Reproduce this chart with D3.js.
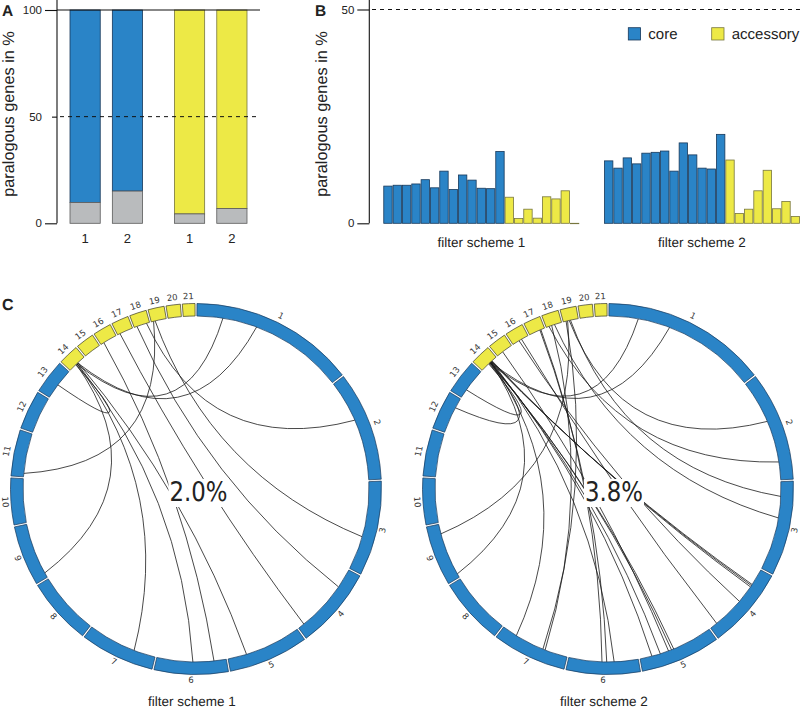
<!DOCTYPE html>
<html><head><meta charset="utf-8">
<script src="https://cdn.jsdelivr.net/npm/d3@7"></script>
<style>body{margin:0;background:#fff} svg{display:block} text{text-rendering:geometricPrecision}</style>
</head><body>
<svg id="c" width="800" height="707"></svg>
<script>
// ---------------- data ----------------
const groupsA = ["core", "accessory"];
const schemes = ["1", "2"];
const paralogCoreA = [9.8, 15.1];      // % paralogous, core, scheme 1 / 2
const paralogAccA = [4.4, 6.9];        // % paralogous, accessory, scheme 1 / 2
const chromosomes = d3.range(1, 22).map(String);
const coreCount = 13;
const scheme1Values = [8.7, 8.9, 8.9, 9.2, 10.2, 8.3, 12.2, 7.9, 11.3, 10.1, 8.2, 8.1, 16.8, 6.1, 1.1, 3.3, 1.2, 6.2, 5.7, 7.6, 0];
const scheme2Values = [14.6, 12.9, 15.3, 13.9, 16.4, 16.6, 16.9, 12.2, 18.8, 16.0, 12.9, 12.7, 20.8, 14.8, 2.3, 3.3, 7.6, 12.4, 3.4, 5.1, 1.6];
const yTicksA = [0, 50, 100];
const yTicksB = [0, 50];
const chromLengths = [5.91, 3.92, 3.40, 2.93, 2.87, 2.65, 2.67, 2.40, 2.16, 1.67, 1.66, 1.40, 1.22, 0.73, 0.66, 0.66, 0.62, 0.61, 0.58, 0.51, 0.45]; // Mb
// links: [chrA, Mb, chrB, Mb]
const links1 = [
  [14, 0.35, 1, 0.99], [14, 0.40, 1, 2.31], [14, 0.30, 13, 0.57], [14, 0.33, 9, 0.19],
  [14, 0.36, 7, 0.83], [14, 0.38, 6, 1.27], [14, 0.42, 5, 2.15], [16, 0.13, 6, 0.47],
  [17, 0.10, 4, 2.68], [18, 0.11, 4, 0.75], [18, 0.49, 2, 1.59], [19, 0.09, 11, 0.13],
  [19, 0.15, 3, 2.11]
];
const links2 = [
  [14, 0.40, 1, 1.12], [14, 0.45, 1, 2.35], [14, 0.35, 13, 0.34], [14, 0.38, 12, 1.01],
  [14, 0.44, 9, 0.15], [14, 0.46, 7, 2.09], [14, 0.40, 5, 1.54], [14, 0.42, 5, 1.63],
  [14, 0.44, 5, 2.08], [14, 0.46, 5, 2.41], [14, 0.48, 4, 0.64], [14, 0.50, 4, 0.69],
  [14, 0.52, 4, 0.75], [14, 0.50, 6, 0.92], [16, 0.27, 4, 1.44], [16, 0.38, 4, 2.64],
  [17, 0.43, 6, 1.20], [17, 0.47, 6, 1.38], [18, 0.22, 7, 0.87], [19, 0.11, 7, 0.96],
  [18, 0.11, 2, 3.24], [19, 0.23, 2, 1.64], [19, 0.28, 3, 0.56], [18, 0.33, 3, 1.38],
  [19, 0.17, 9, 1.79], [15, 0.25, 5, 1.75]
];
const percents = ["2.0%", "3.8%"];

// ---------------- style ----------------
const BLUE = "#2a84c7", YELLOW = "#ede946", GRAY = "#b9bbbd";
const BLUE_S = "#17385a", YELLOW_S = "#77763e", GRAY_S = "#5a5a5a";
const SANS = "'Liberation Sans', Arial, sans-serif";
const DJ = "'DejaVu Sans', sans-serif";
const svg = d3.select("#c");

// ---------------- Panel A ----------------
const yA = d3.scaleLinear().domain([0, 100]).range([223.3, 10]);
const xA0 = d3.scaleBand().domain(groupsA).range([70, 247]).paddingInner(0.305);
const xA1 = d3.scaleBand().domain(schemes).range([0, xA0.bandwidth()]).paddingInner(0.286);
const gA = svg.append("g");
const dataA = [];
groupsA.forEach((g, gi) => schemes.forEach((s, si) => {
  dataA.push({g, s, v: gi === 0 ? paralogCoreA[si] : paralogAccA[si]});
}));
gA.selectAll("rect.top").data(dataA).join("rect")
  .attr("x", d => xA0(d.g) + xA1(d.s)).attr("width", xA1.bandwidth())
  .attr("y", yA(100)).attr("height", d => yA(d.v) - yA(100))
  .attr("fill", d => d.g === "core" ? BLUE : YELLOW)
  .attr("stroke", d => d.g === "core" ? BLUE_S : YELLOW_S).attr("stroke-width", 0.8);
gA.selectAll("rect.bot").data(dataA).join("rect")
  .attr("x", d => xA0(d.g) + xA1(d.s)).attr("width", xA1.bandwidth())
  .attr("y", d => yA(d.v)).attr("height", d => yA(0) - yA(d.v))
  .attr("fill", GRAY).attr("stroke", GRAY_S).attr("stroke-width", 0.8);
// axis
const axA = gA.append("g").attr("transform", "translate(57,0)")
  .call(d3.axisLeft(yA).tickValues(yTicksA).tickSize(12).tickPadding(3));
axA.select(".domain").remove();
axA.selectAll(".tick text").attr("font-family", SANS).attr("font-size", 11.5).attr("fill", "#222");
axA.selectAll(".tick line").attr("stroke", "#111").attr("stroke-width", 1.1)
  .filter(d => d === 50).attr("x2", -5);
gA.append("line").attr("x1", 57).attr("x2", 57).attr("y1", 0).attr("y2", yA(0)).attr("stroke", "#111").attr("stroke-width", 1.1);
gA.append("line").attr("x1", 57).attr("x2", 260).attr("y1", yA(100)).attr("y2", yA(100)).attr("stroke", "#111").attr("stroke-width", 1.1);
gA.append("line").attr("x1", 60).attr("x2", 257).attr("y1", yA(50)).attr("y2", yA(50)).attr("stroke", "#111").attr("stroke-width", 1).attr("stroke-dasharray", "4,4");
// x labels
gA.selectAll("text.xl").data(dataA).join("text")
  .attr("x", d => xA0(d.g) + xA1(d.s) + xA1.bandwidth() / 2).attr("y", 243)
  .attr("text-anchor", "middle").attr("font-family", SANS).attr("font-size", 13).attr("fill", "#222")
  .text(d => d.s);
gA.append("text").attr("transform", "translate(13.5,114) rotate(-90)").attr("text-anchor", "middle")
  .attr("font-family", SANS).attr("font-size", 16.3).attr("fill", "#222").text("paralogous genes in %");
svg.append("text").attr("x", 2).attr("y", 15.5).attr("font-family", SANS).attr("font-weight", "bold").attr("font-size", 15.5).attr("fill", "#222").text("A");

// ---------------- Panel B ----------------
const yB = d3.scaleLinear().domain([0, 50]).range([223.3, 9.5]);
const xB0 = d3.scaleBand().domain(schemes).range([383.3, 800]).paddingInner(0.112);
const xB1 = d3.scaleBand().domain(chromosomes).range([0, xB0.bandwidth()]).paddingInner(0.1).paddingOuter(0.05);
const gB = svg.append("g");
const dataB = [];
[scheme1Values, scheme2Values].forEach((arr, si) => arr.forEach((v, i) => dataB.push({s: schemes[si], c: chromosomes[i], v, core: i < coreCount})));
gB.selectAll("rect").data(dataB).join("rect")
  .attr("x", d => xB0(d.s) + xB1(d.c)).attr("width", xB1.bandwidth())
  .attr("y", d => yB(d.v)).attr("height", d => Math.max(0.4, yB(0) - yB(d.v)))
  .attr("fill", d => d.core ? BLUE : YELLOW)
  .attr("stroke", d => d.core ? BLUE_S : YELLOW_S).attr("stroke-width", 0.8);
const axB = gB.append("g").attr("transform", "translate(369.3,0)")
  .call(d3.axisLeft(yB).tickValues(yTicksB).tickSize(12).tickPadding(3));
axB.select(".domain").remove();
axB.selectAll(".tick text").attr("font-family", SANS).attr("font-size", 11.5).attr("fill", "#222");
axB.selectAll(".tick line").attr("stroke", "#111").attr("stroke-width", 1.1);
gB.append("line").attr("x1", 369.3).attr("x2", 369.3).attr("y1", 0).attr("y2", yB(0)).attr("stroke", "#111").attr("stroke-width", 1.1);
gB.append("line").attr("x1", 372).attr("x2", 800).attr("y1", yB(50)).attr("y2", yB(50)).attr("stroke", "#111").attr("stroke-width", 1).attr("stroke-dasharray", "4,4");
gB.selectAll("text.xl").data(schemes).join("text")
  .attr("x", d => xB0(d) + xB0.bandwidth() / 2).attr("y", 247)
  .attr("text-anchor", "middle").attr("font-family", SANS).attr("font-size", 13.5).attr("fill", "#222")
  .text(d => "filter scheme " + d);
gB.append("text").attr("transform", "translate(327,114) rotate(-90)").attr("text-anchor", "middle")
  .attr("font-family", SANS).attr("font-size", 16.3).attr("fill", "#222").text("paralogous genes in %");
svg.append("text").attr("x", 315).attr("y", 15.5).attr("font-family", SANS).attr("font-weight", "bold").attr("font-size", 15.5).attr("fill", "#222").text("B");
// legend
const legend = [{t: "core", c: BLUE, s: BLUE_S, x: 628.3}, {t: "accessory", c: YELLOW, s: YELLOW_S, x: 711.7}];
const lg = gB.selectAll("g.lg").data(legend).join("g").attr("transform", d => `translate(${d.x},27.7)`);
lg.append("rect").attr("width", 12.3).attr("height", 12.3).attr("fill", d => d.c).attr("stroke", d => d.s).attr("stroke-width", 0.8);
lg.append("text").attr("x", 20).attr("y", 11).attr("font-family", SANS).attr("font-size", 15).attr("fill", "#222").text(d => d.t);

// ---------------- Panel C ----------------
svg.append("text").attr("x", 2).attr("y", 310).attr("font-family", SANS).attr("font-weight", "bold").attr("font-size", 16).attr("fill", "#222").text("C");
const ri = 173, ro = 185.5, labelR = 192, padDeg = 0.6;
const totalLen = d3.sum(chromLengths);
const angScale = d3.scaleLinear().domain([0, totalLen]).range([0, 360 - chromLengths.length * padDeg]);
const cum = d3.cumsum([0].concat(chromLengths));
const chromStart = chromLengths.map((l, i) => padDeg / 2 + angScale(cum[i]) + i * padDeg);
const chromEnd = chromLengths.map((l, i) => chromStart[i] + angScale(l));
const rad = d => d * Math.PI / 180;
const pt = (a, r) => [r * Math.sin(rad(a)), -r * Math.cos(rad(a))];
const angleOf = (c, mb) => chromStart[c - 1] + angScale(mb);
const arc = d3.arc().innerRadius(ri).outerRadius(ro);

function linkPath(a1, a2) {
  const p1 = pt(a1, ri), p2 = pt(a2, ri);
  const d = ((a2 - a1) % 360 + 360) % 360;
  let sep, mid;
  if (d <= 180) { sep = d; mid = a1 + d / 2; } else { sep = 360 - d; mid = a2 + sep / 2; }
  const b = ri * 0.36 * (1 - sep / 180);
  const c = pt(mid, b);
  const p = d3.path();
  p.moveTo(p1[0], p1[1]);
  p.quadraticCurveTo(c[0], c[1], p2[0], p2[1]);
  return p.toString();
}

function circos(cx, cy, links, pct, schemeLabel, tx) {
  const g = svg.append("g").attr("transform", `translate(${cx},${cy})`);
  g.selectAll("path.link").data(links).join("path")
    .attr("d", d => linkPath(angleOf(d[0], d[1]), angleOf(d[2], d[3])))
    .attr("fill", "none").attr("stroke", "#1a1a1a").attr("stroke-width", 0.8);
  g.selectAll("path.chr").data(chromosomes).join("path")
    .attr("d", (d, i) => arc({startAngle: rad(chromStart[i]), endAngle: rad(chromEnd[i])}))
    .attr("fill", (d, i) => i < coreCount ? BLUE : YELLOW)
    .attr("stroke", (d, i) => i < coreCount ? BLUE_S : "#3a3a2a").attr("stroke-width", 0.7);
  g.selectAll("text.lab").data(chromosomes).join("text")
    .attr("transform", (d, i) => {
      const a = (chromStart[i] + chromEnd[i]) / 2;
      const p = pt(a, labelR);
      const rot = (a > 90 && a < 270) ? a - 180 : a;
      return `translate(${p[0]},${p[1]}) rotate(${rot})`;
    })
    .attr("text-anchor", "middle").attr("dominant-baseline", "central")
    .attr("font-family", DJ).attr("font-size", 8.5).attr("fill", "#333").text(d => d);
  const bg = g.append("rect").attr("fill", "#fff");
  const t = g.append("text").attr("x", tx).attr("y", 3.5).attr("text-anchor", "middle").attr("dominant-baseline", "central")
    .attr("font-family", DJ).attr("font-size", 27).attr("fill", "#222")
    .attr("textLength", 58).attr("lengthAdjust", "spacingAndGlyphs").text(pct);
  const bb = t.node().getBBox();
  bg.attr("x", bb.x - 1).attr("y", bb.y + 2).attr("width", bb.width + 2).attr("height", bb.height - 3);
  svg.append("text").attr("x", cx - 4).attr("y", 705.5).attr("text-anchor", "middle")
    .attr("font-family", SANS).attr("font-size", 13.5).attr("fill", "#222").text("filter scheme " + schemeLabel);
}
circos(196, 489, links1, percents[0], "1", 2.5);
circos(608, 489, links2, percents[1], "2", 6);
</script>
</body></html>
